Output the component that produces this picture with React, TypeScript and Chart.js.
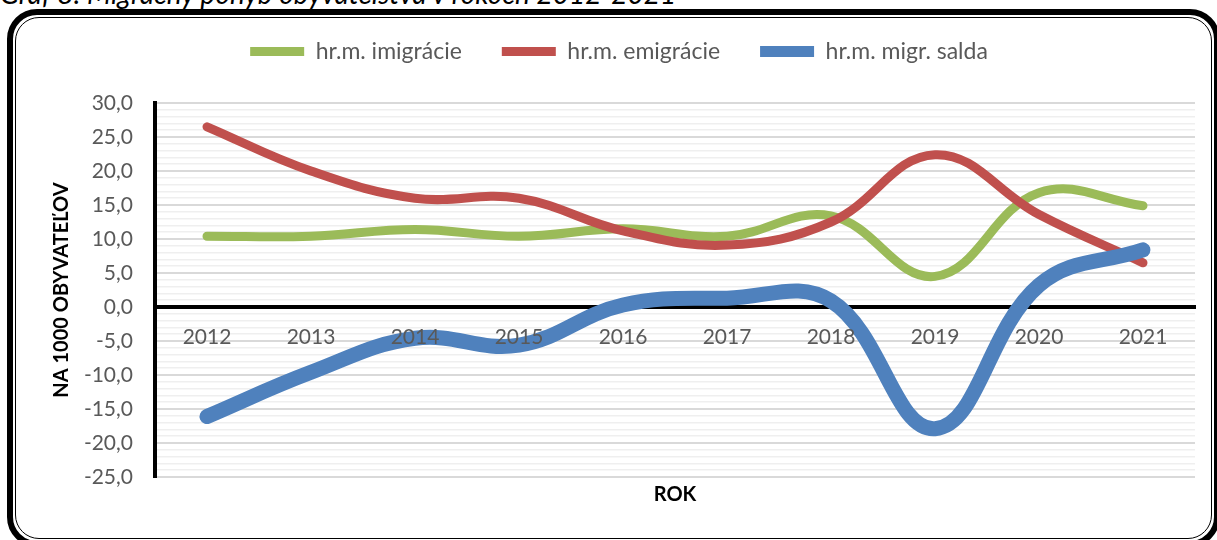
import React, { useEffect, useRef } from "react";
import { Chart, registerables } from "chart.js";

Chart.register(...registerables);

const years = ["2012", "2013", "2014", "2015", "2016", "2017", "2018", "2019", "2020", "2021"];
const imigracia = [10.4, 10.4, 11.4, 10.4, 11.5, 10.4, 13.4, 4.5, 16.8, 14.9];
const emigracia = [26.5, 20.0, 16.0, 16.0, 11.2, 9.1, 12.5, 22.4, 13.6, 6.5];
const saldo = [-16.1, -9.6, -4.6, -5.6, 0.3, 1.3, 0.9, -17.9, 3.2, 8.4];
const yMin = -25;
const yMax = 30;

const FONT = "Lato";
const GREY_TEXT = "#595959";

export default function App() {
  const ref = useRef<HTMLCanvasElement>(null);

  useEffect(() => {
    const canvas = ref.current;
    if (!canvas) return;
    const chart = new Chart(canvas, {
      type: "line",
      data: {
        labels: years,
        datasets: [
          {
            label: "hr.m. imigrácie",
            data: imigracia,
            borderColor: "#9BBB59",
            backgroundColor: "#9BBB59",
            borderWidth: 9,
            tension: 0.4,
            pointRadius: 0,
            borderCapStyle: "round",
            borderJoinStyle: "round",
            fill: false,
            order: 2,
          },
          {
            label: "hr.m. emigrácie",
            data: emigracia,
            borderColor: "#C0504D",
            backgroundColor: "#C0504D",
            borderWidth: 9,
            tension: 0.4,
            pointRadius: 0,
            borderCapStyle: "round",
            borderJoinStyle: "round",
            fill: false,
            order: 1,
          },
          {
            label: "hr.m. migr. salda",
            data: saldo,
            borderColor: "#4F81BD",
            backgroundColor: "#4F81BD",
            borderWidth: 15,
            tension: 0.4,
            pointRadius: 0,
            borderCapStyle: "round",
            borderJoinStyle: "round",
            fill: false,
            order: 0,
          },
        ],
      },
      options: {
        responsive: false,
        animation: false,
        layout: { padding: { top: 0, left: 43, right: 22, bottom: 0 } },
        plugins: {
          tooltip: { enabled: false },
          legend: {
            position: "top",
            labels: {
              usePointStyle: true,
              pointStyle: "line",
              pointStyleWidth: 54,
              padding: 40,
              color: GREY_TEXT,
              font: { family: FONT, size: 23 },
              sort: (a: any, b: any) => a.datasetIndex - b.datasetIndex,
              generateLabels: (c: any) => {
                const items = (Chart.defaults.plugins.legend.labels as any).generateLabels(c);
                return items.map((it: any) => ({ ...it, lineWidth: it.datasetIndex === 2 ? 11 : 9 }));
              },
            },
          },
        },
        scales: {
          x: {
            type: "category",
            position: { y: 0 } as any,
            offset: true,
            grid: { display: false, drawTicks: false },
            border: { display: true, color: "#000", width: 4 },
            ticks: {
              color: GREY_TEXT,
              font: { family: FONT, size: 21 },
              padding: 18,
              z: 1,
              autoSkip: false,
              maxRotation: 0,
            },
          },
          x2: {
            type: "category",
            position: "bottom",
            offset: true,
            grid: { display: false, drawTicks: false },
            border: { display: false },
            ticks: { display: false },
            title: {
              display: true,
              text: "ROK",
              color: "#000",
              font: { family: FONT, size: 20, weight: "bold" },
              padding: { top: 0, bottom: 33 },
            },
            afterFit: (s: any) => {
              s.height = 63;
            },
          },
          x3: {
            type: "category",
            position: "top",
            grid: { display: false, drawTicks: false },
            border: { display: false },
            ticks: { display: false },
            afterFit: (s: any) => {
              s.height = 30;
            },
          },
          y: {
            min: yMin,
            max: yMax,
            ticks: {
              stepSize: 1,
              autoSkip: false,
              maxTicksLimit: 100,
              color: GREY_TEXT,
              font: { family: FONT, size: 21 },
              padding: 22,
              callback: (v: any) => (Number(v) % 5 === 0 ? Number(v).toFixed(1).replace(".", ",") : ""),
            },
            grid: {
              drawTicks: false,
              color: (ctx: any) => (ctx.tick && ctx.tick.value % 5 === 0 ? "#d9d9d9" : "#efefef"),
              lineWidth: (ctx: any) => (ctx.tick && ctx.tick.value % 5 === 0 ? 2 : 1.5),
            },
            border: { display: true, color: "#000", width: 4 },
            title: {
              display: true,
              text: "NA 1000 OBYVATEĽOV",
              color: "#000",
              font: { family: FONT, size: 20, weight: "bold" },
              padding: { top: 7, bottom: 0 },
            },
            afterFit: (s: any) => {
              s.width = 112;
            },
          },
        },
      } as any,
    });
    return () => chart.destroy();
  }, []);

  return (
    <div
      style={{
        position: "fixed",
        left: 0,
        top: 0,
        width: 1217,
        height: 540,
        overflow: "hidden",
        background: "#fff",
      }}
    >
      <div
        style={{
          position: "absolute",
          left: 7,
          top: 9,
          width: 1213,
          height: 538,
          border: "6px solid #000",
          borderRadius: 30,
          boxSizing: "border-box",
        }}
      >
        <div
          style={{
            position: "absolute",
            left: 2,
            top: 2,
            right: 2,
            bottom: 2,
            border: "1.5px solid #000",
            borderRadius: 24,
          }}
        />
      </div>
      <div
        style={{
          position: "absolute",
          left: 0,
          top: -21,
          fontFamily: FONT,
          fontStyle: "italic",
          fontSize: 28,
          lineHeight: "28px",
          whiteSpace: "nowrap",
          color: "#000",
        }}
      >
        Graf 8: Migračný pohyb obyvateľstva v rokoch 2012-2021
      </div>
      <canvas
        ref={ref}
        width={1217}
        height={540}
        style={{ position: "absolute", left: 0, top: 0, width: 1217, height: 540 }}
      />
    </div>
  );
}
